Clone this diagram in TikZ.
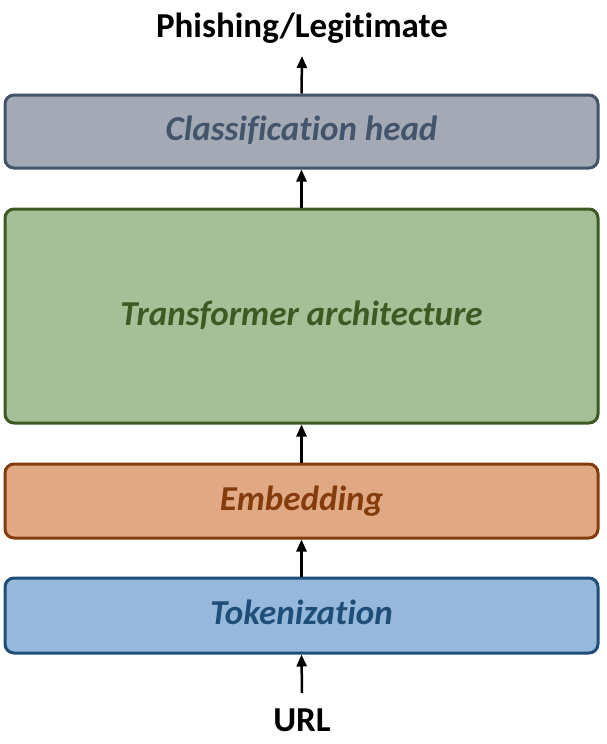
\documentclass[tikz,border=0pt]{standalone}
\usepackage{fontspec}
\setmainfont[Ligatures=NoCommon]{Carlito}
\usetikzlibrary{arrows.meta}
\definecolor{clsfill}{HTML}{A3AAB5}
\definecolor{clsline}{HTML}{44546A}
\definecolor{trfill}{HTML}{A6BF96}
\definecolor{trline}{HTML}{3B5A24}
\definecolor{emfill}{HTML}{E0A984}
\definecolor{emline}{HTML}{843C0C}
\definecolor{tkfill}{HTML}{95B8DB}
\definecolor{tkline}{HTML}{1F4E79}
\tikzset{
  layer/.style={draw, line width=3pt, rounded corners=9pt, minimum width=593pt, inner sep=0pt,
    text height=25pt, text depth=7pt,
    font=\fontsize{35}{40}\selectfont\bfseries\itshape},
  endlabel/.style={font=\fontsize{35}{40}\selectfont\bfseries, text=black, inner sep=0pt, anchor=base},
  flow/.style={line width=2.5pt, -{Triangle[width=10pt,length=12pt]}}
}
\begin{document}
\begin{tikzpicture}[x=1pt,y=-1pt]
\useasboundingbox (0,0) rectangle (606,744);
\node[endlabel] (out) at (302,37) {Phishing/Legitimate};
\node[layer, fill=clsfill, draw=clsline, text=clsline, minimum height=73pt] (cls) at (301.5,131.5) {Classification head};
\node[layer, fill=trfill, draw=trline, text=trline, minimum height=214pt] (tr) at (301.5,316) {Transformer architecture};
\node[layer, fill=emfill, draw=emline, text=emline, minimum height=74pt] (em) at (301.5,501) {Embedding};
\node[layer, fill=tkfill, draw=tkline, text=tkline, minimum height=75pt] (tk) at (301.5,615.5) {Tokenization};
\node[endlabel] (url) at (302,731) {URL};
\coordinate (urltop) at (302,693);
\coordinate (outbot) at (302,56);
\draw[flow] (urltop) -- (tk.south);
\draw[flow] (tk.north) -- (em.south);
\draw[flow] (em.north) -- (tr.south);
\draw[flow] (tr.north) -- (cls.south);
\draw[flow] (cls.north) -- (outbot);
\end{tikzpicture}
\end{document}
